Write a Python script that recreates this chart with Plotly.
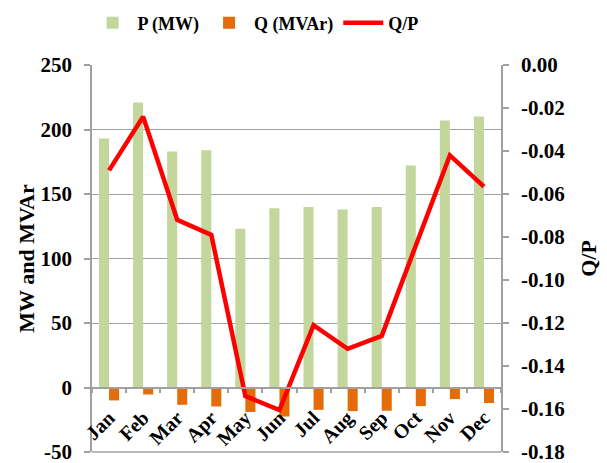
import plotly.graph_objects as go

months = ["Jan", "Feb", "Mar", "Apr", "May", "Jun", "Jul", "Aug", "Sep", "Oct", "Nov", "Dec"]
p_mw = [193, 221, 183, 184, 123, 139, 140, 138, 140, 172, 207, 210]
q_mvar = [-10, -5.4, -13.4, -14.7, -19, -22.5, -17.3, -18.3, -18, -14.4, -9, -12]
q_over_p = [-0.049, -0.024, -0.072, -0.079, -0.154, -0.1605, -0.121, -0.132, -0.126, -0.084, -0.042, -0.0566]

left_ticks = [-50, 0, 50, 100, 150, 200, 250]
left_ticktext = ["-50", "0", "50", "100", "150", "200", "250"]
right_ticks = [-0.18, -0.16, -0.14, -0.12, -0.10, -0.08, -0.06, -0.04, -0.02, 0.0]
right_ticktext = ["-0.18", "-0.16", "-0.14", "-0.12", "-0.10", "-0.08", "-0.06", "-0.04", "-0.02", "0.00"]

FONT = "Liberation Serif"
GRAY = "#A0A0A0"
TICKFONT = dict(family=FONT, size=21, color="black", weight="bold")
TITLEFONT = dict(family=FONT, size=22, color="black", weight="bold")

fig = go.Figure()
fig.add_trace(go.Bar(x=months, y=p_mw, name="P (MW)", marker=dict(color="#C3D69B", line=dict(width=0))))
fig.add_trace(go.Bar(x=months, y=q_mvar, name="Q (MVAr)", marker=dict(color="#E46C0A", line=dict(width=0))))
fig.add_trace(go.Scatter(x=months, y=q_over_p, name="Q/P", mode="lines", yaxis="y2",
                         line=dict(color="#FF0000", width=4.5)))

fig.update_layout(
    width=607, height=463,
    margin=dict(l=92, r=106, t=65, b=11, autoexpand=False),
    paper_bgcolor="white", plot_bgcolor="white",
    barmode="group", bargap=0.41, bargroupgap=0,
    font=dict(family=FONT, size=20, color="black"),
    showlegend=True,
    legend=dict(orientation="h", x=0.40, xanchor="center", xref="paper",
                y=1 - 23 / 463, yref="container", yanchor="middle",
                font=dict(family=FONT, size=18, color="black", weight="bold"),
                itemwidth=40, traceorder="normal"),
    xaxis=dict(
        type="category", range=[-0.5, 11.5],
        anchor="free", position=1/6, automargin=False,
        showline=True, linecolor=GRAY, linewidth=1.5,
        ticks="outside", tickson="boundaries", ticklen=5, tickcolor=GRAY, tickwidth=1.5,
        tickangle=-45, showgrid=False, ticklabelstandoff=10,
        tickfont=dict(family=FONT, size=20, color="black", weight="bold"),
    ),
    yaxis=dict(
        range=[-50, 250], tickvals=left_ticks, ticktext=left_ticktext,
        automargin=False,
        showline=True, linecolor=GRAY, linewidth=1.5,
        ticks="outside", ticklen=6, tickcolor=GRAY, tickwidth=1.5,
        showgrid=True, gridcolor=GRAY, gridwidth=1.3, zeroline=False,
        tickfont=TICKFONT, ticklabelstandoff=8, ticklabeloverflow="allow",
        title=dict(text="MW and MVAr", font=TITLEFONT, standoff=0),
    ),
    yaxis2=dict(
        range=[-0.18, 0.0], tickvals=right_ticks, ticktext=right_ticktext,
        overlaying="y", side="right", automargin=False,
        showline=True, linecolor=GRAY, linewidth=1.5,
        ticks="outside", ticklen=6, tickcolor=GRAY, tickwidth=1.5,
        showgrid=False, zeroline=False,
        tickfont=TICKFONT, ticklabelstandoff=8, ticklabeloverflow="allow",
        title=dict(text="Q/P", font=TITLEFONT, standoff=16),
    ),
)

fig.add_shape(type="line", xref="paper", yref="paper", x0=0, x1=1, y0=0, y1=0,
              line=dict(color=GRAY, width=1.5), layer="above")

fig.write_html("out.html", config={"displayModeBar": False},
               post_script="document.body.style.margin='0';")
